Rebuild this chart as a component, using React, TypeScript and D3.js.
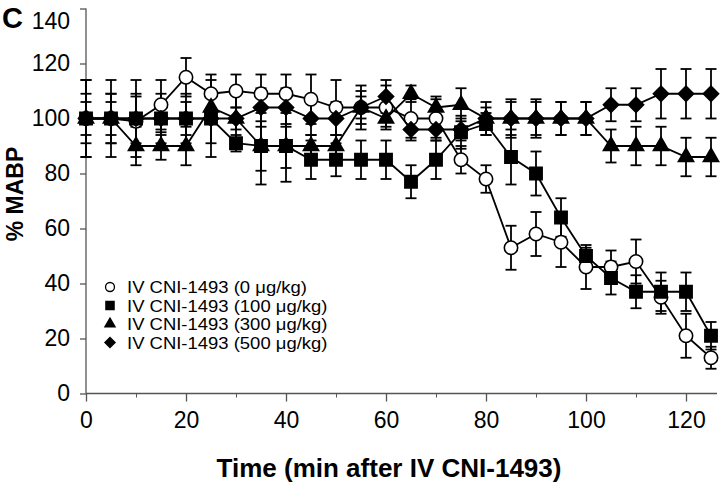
import React, { useRef, useEffect } from 'react';
import * as d3 from 'd3';

// time points (min after IV CNI-1493)
const times = [0, 5, 10, 15, 20, 25, 30, 35, 40, 45, 50, 55, 60, 65, 70, 75, 80, 85, 90, 95, 100, 105, 110, 115, 120, 125];

// % MABP per dose, with error bars
const dose0 = [100, 100, 99, 105, 115, 109, 110, 109, 109, 107, 104, 104, 104, 100, 100, 85, 78, 53, 58, 55, 46, 46, 48, 35, 21, 13];
const dose0Err = [9, 9, 9, 9, 7, 7, 6, 7, 7, 9, 10, 8, 8, 7, 7, 5, 5, 8, 8, 9, 8, 6, 8, 6, 8, 4];

const dose100 = [100, 100, 100, 100, 100, 100, 91, 90, 90, 85, 85, 85, 85, 77, 85, 95, 98, 86, 80, 64, 50, 42, 37, 37, 37, 21];
const dose100Err = [14, 14, 14, 6, 6, 14, 3, 14, 13, 7, 6, 7, 7, 6, 7, 6, 4, 10, 8, 7, 3, 6, 6, 7, 7, 5];

const dose300 = [100, 100, 90, 90, 90, 104, 100, 90, 90, 90, 90, 104, 100, 109, 104, 105, 100, 100, 100, 100, 100, 90, 90, 90, 86, 86];
const dose300Err = [6, 6, 7, 5, 7, 4, 4, 9, 8, 4, 4, 4, 3, 3, 4, 6, 4, 7, 7, 6, 6, 6, 7, 7, 7, 7];

const dose500 = [100, 100, 100, 100, 100, 100, 100, 104, 104, 100, 100, 104, 108, 96, 96, 96, 100, 100, 100, 100, 100, 105, 105, 109, 109, 109];
const dose500Err = [14, 9, 9, 9, 9, 9, 9, 7, 7, 6, 6, 6, 6, 4, 4, 4, 6, 6, 6, 6, 6, 6, 6, 9, 9, 9];

const legendLabels = [
    'IV CNI-1493 (0 μg/kg)',
    'IV CNI-1493 (100 μg/kg)',
    'IV CNI-1493 (300 μg/kg)',
    'IV CNI-1493 (500 μg/kg)',
];

const xTicks = [0, 20, 40, 60, 80, 100, 120];
const xMinorTicks = [10, 30, 50, 70, 90, 110];
const yTicks = [0, 20, 40, 60, 80, 100, 120, 140];

type Marker = 'circle' | 'square' | 'triangle' | 'diamond';

const series: { values: number[]; errors: number[]; marker: Marker; label: string }[] = [
    { values: dose0, errors: dose0Err, marker: 'circle', label: legendLabels[0] },
    { values: dose300, errors: dose300Err, marker: 'triangle', label: legendLabels[2] },
    { values: dose500, errors: dose500Err, marker: 'diamond', label: legendLabels[3] },
    { values: dose100, errors: dose100Err, marker: 'square', label: legendLabels[1] },
];
const legendOrder: Marker[] = ['circle', 'square', 'triangle', 'diamond'];

const FONT = 'Liberation Sans, Arial, Helvetica, sans-serif';

const symbolPath = (marker: Marker, scale: number) => {
    if (marker === 'circle') return d3.symbol(d3.symbolCircle, 140 * scale)();
    if (marker === 'square') return d3.symbol(d3.symbolSquare, 150 * scale)();
    if (marker === 'triangle') return d3.symbol(d3.symbolTriangle, 100 * scale)();
    return d3.symbol(d3.symbolSquare, 115 * scale)();
};

const App = () => {
    const ref = useRef<SVGSVGElement>(null);

    useEffect(() => {
        const svg = d3.select(ref.current);
        svg.selectAll('*').remove();

        const x = d3.scaleLinear().domain([0, 125]).range([86, 711]);
        const y = d3.scaleLinear().domain([0, 140]).range([393.5, 8.5]);

        // panel letter
        svg.append('text')
            .attr('x', 2).attr('y', 28)
            .attr('font-family', FONT).attr('font-weight', 'bold').attr('font-size', 29)
            .text('C');

        // axes
        const axisColor = '#555';
        svg.append('line')
            .attr('x1', x(0)).attr('x2', 717)
            .attr('y1', y(0)).attr('y2', y(0))
            .attr('stroke', axisColor).attr('stroke-width', 1.3);
        svg.append('line')
            .attr('x1', x(0)).attr('x2', x(0))
            .attr('y1', y(0)).attr('y2', y(140))
            .attr('stroke', axisColor).attr('stroke-width', 1.3);

        const xAxis = svg.append('g')
            .attr('transform', `translate(0, ${y(0)})`)
            .call(d3.axisBottom(x).tickValues(xTicks).tickSize(8).tickSizeOuter(0).tickPadding(10).tickFormat(d3.format('d')));
        xAxis.select('.domain').remove();
        xAxis.selectAll('line').attr('stroke', axisColor).attr('stroke-width', 1.3);
        xAxis.selectAll('text').attr('font-family', FONT).attr('font-size', 23).attr('fill', '#000');

        const xMinor = svg.append('g')
            .attr('transform', `translate(0, ${y(0)})`)
            .call(d3.axisBottom(x).tickValues(xMinorTicks).tickSize(4).tickFormat(() => ''));
        xMinor.select('.domain').remove();
        xMinor.selectAll('line').attr('stroke', axisColor).attr('stroke-width', 1);

        const yAxis = svg.append('g')
            .attr('transform', `translate(${x(0)}, 0)`)
            .call(d3.axisLeft(y).tickValues(yTicks).tickSize(6).tickSizeOuter(0).tickPadding(10).tickFormat(d3.format('d')));
        yAxis.select('.domain').remove();
        yAxis.selectAll('line').attr('stroke', axisColor).attr('stroke-width', 1.3);
        yAxis.selectAll('text').attr('font-family', FONT).attr('font-size', 23).attr('fill', '#000');
        // top label sits a little lower so it stays inside the picture
        yAxis.selectAll<SVGTextElement, number>('text').filter(d => d === 140).attr('dy', '0.85em');

        // axis titles
        svg.append('text')
            .attr('x', 389).attr('y', 477)
            .attr('text-anchor', 'middle')
            .attr('font-family', FONT).attr('font-weight', 'bold').attr('font-size', 26)
            .text('Time (min after IV CNI-1493)');
        svg.append('text')
            .attr('transform', 'translate(23, 194) rotate(-90)')
            .attr('text-anchor', 'middle')
            .attr('font-family', FONT).attr('font-weight', 'bold').attr('font-size', 23)
            .text('% MABP');

        const line = d3.line<number>()
            .x((_, i) => x(times[i]))
            .y(d => y(d));

        // error bars first, then lines, then markers
        series.forEach(s => {
            const g = svg.append('g').attr('stroke', '#000').attr('stroke-width', 1.8);
            s.values.forEach((v, i) => {
                const cx = x(times[i]);
                const top = y(v + s.errors[i]);
                const bot = y(v - s.errors[i]);
                g.append('line').attr('x1', cx).attr('x2', cx).attr('y1', top).attr('y2', bot);
                g.append('line').attr('x1', cx - 5.5).attr('x2', cx + 5.5).attr('y1', top).attr('y2', top);
                g.append('line').attr('x1', cx - 5.5).attr('x2', cx + 5.5).attr('y1', bot).attr('y2', bot);
            });
        });

        series.forEach(s => {
            svg.append('path')
                .datum(s.values)
                .attr('d', line)
                .attr('fill', 'none')
                .attr('stroke', '#000')
                .attr('stroke-width', 1.8);
            svg.append('g')
                .selectAll('path')
                .data(s.values)
                .enter().append('path')
                .attr('d', symbolPath(s.marker, 1))
                .attr('transform', (d, i) => `translate(${x(times[i])}, ${y(d)})${s.marker === 'diamond' ? ' rotate(45)' : ''}`)
                .attr('fill', s.marker === 'circle' ? '#fff' : '#000')
                .attr('stroke', '#000')
                .attr('stroke-width', 1.6);
        });

        // legend
        const legend = svg.append('g');
        legendOrder.forEach((m, i) => {
            const s = series.find(d => d.marker === m)!;
            const cy = 287 + i * 18.5;
            legend.append('path')
                .attr('d', symbolPath(m, 0.45))
                .attr('transform', `translate(110, ${cy})${m === 'diamond' ? ' rotate(45)' : ''}`)
                .attr('fill', m === 'circle' ? '#fff' : '#000')
                .attr('stroke', '#000')
                .attr('stroke-width', 1.3);
            legend.append('text')
                .attr('transform', `translate(127, ${cy + 6}) scale(1.12, 1)`)
                .attr('font-family', FONT).attr('font-size', 16.5)
                .text(s.label);
        });
    }, []);

    return (
        <svg ref={ref} width={720} height={487} style={{ position: 'absolute', left: 0, top: 0, background: '#fff' }}></svg>
    );
};

export default App;
